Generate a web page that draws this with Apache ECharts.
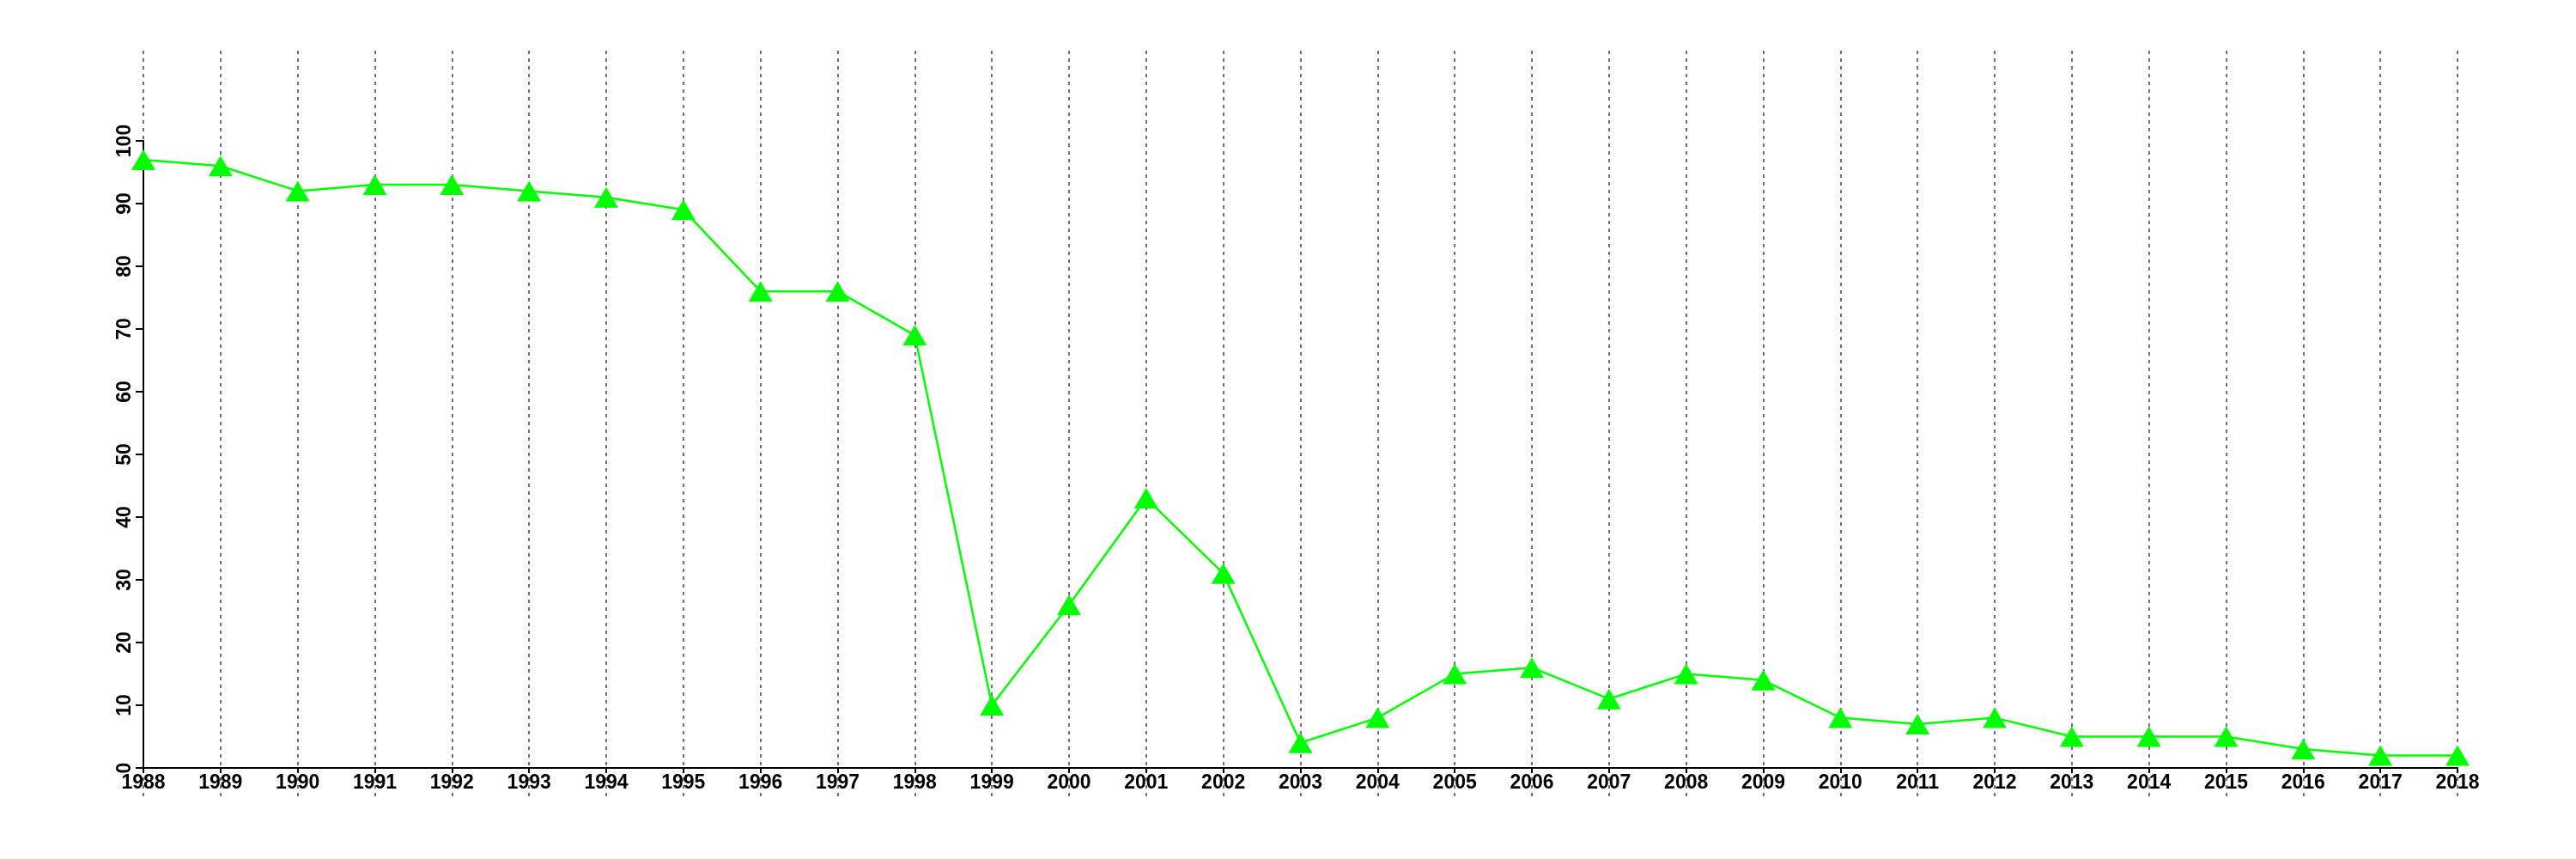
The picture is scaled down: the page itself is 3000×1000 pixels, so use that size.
<!DOCTYPE html>
<html>
<head>
<meta charset="utf-8">
<script src="https://cdn.jsdelivr.net/npm/echarts@6/dist/echarts.min.js"></script>
<style>
html,body{margin:0;padding:0;background:#fff;}
#chart{width:3000px;height:1000px;}
</style>
</head>
<body>
<div id="chart"></div>
<script>
const years = ['1988','1989','1990','1991','1992','1993','1994','1995','1996','1997','1998','1999','2000','2001','2002','2003','2004','2005','2006','2007','2008','2009','2010','2011','2012','2013','2014','2015','2016','2017','2018'];
const values = [97,96,92,93,93,92,91,89,76,76,69,10,26,43,31,4,8,15,16,11,15,14,8,7,8,5,5,5,3,2,2];
const yMin = 0, yMax = 100, yStep = 10;

const font = 'Liberation Sans, Arial, Helvetica, sans-serif';
const chart = echarts.init(document.getElementById('chart'), null, {renderer: 'canvas'});
chart.setOption({
  animation: false,
  backgroundColor: '#ffffff',
  grid: [
    {left: 167, right: 138, top: 164, bottom: 106},
    {left: 167, right: 138, top: 59, bottom: 73}
  ],
  xAxis: [
    {
      type: 'category', gridIndex: 0, data: years, boundaryGap: false,
      axisLine: {show: true, onZero: false, lineStyle: {color: '#000', width: 2}},
      axisTick: {show: true, length: 6, lineStyle: {color: '#000', width: 2}},
      axisLabel: {show: true, interval: 0, margin: 6, color: '#000', fontSize: 23, fontWeight: 'bold', fontFamily: font},
      splitLine: {show: false}
    },
    {
      type: 'category', gridIndex: 1, data: years, boundaryGap: false,
      axisLine: {show: false}, axisTick: {show: false}, axisLabel: {show: false},
      splitLine: {show: true, interval: 0, lineStyle: {color: '#707070', width: 2, type: [4, 5]}}
    }
  ],
  yAxis: [
    {
      type: 'value', gridIndex: 0, min: yMin, max: yMax, interval: yStep,
      axisLine: {show: true, lineStyle: {color: '#000', width: 2}},
      axisTick: {show: true, length: 9, lineStyle: {color: '#000', width: 2}},
      axisLabel: {show: true, rotate: 90, margin: 10, color: '#000', fontSize: 23, fontWeight: 'bold', fontFamily: font},
      splitLine: {show: false}
    },
    {
      type: 'value', gridIndex: 1, min: 0, max: 1, show: false, splitLine: {show: false}
    }
  ],
  series: [{
    type: 'line', xAxisIndex: 0, yAxisIndex: 0, data: values,
    symbol: 'triangle', symbolSize: [28, 24], showSymbol: true,
    lineStyle: {color: '#00ff00', width: 2.5},
    itemStyle: {color: '#00ff00', borderWidth: 0},
    z: 5
  }]
});
</script>
</body>
</html>
